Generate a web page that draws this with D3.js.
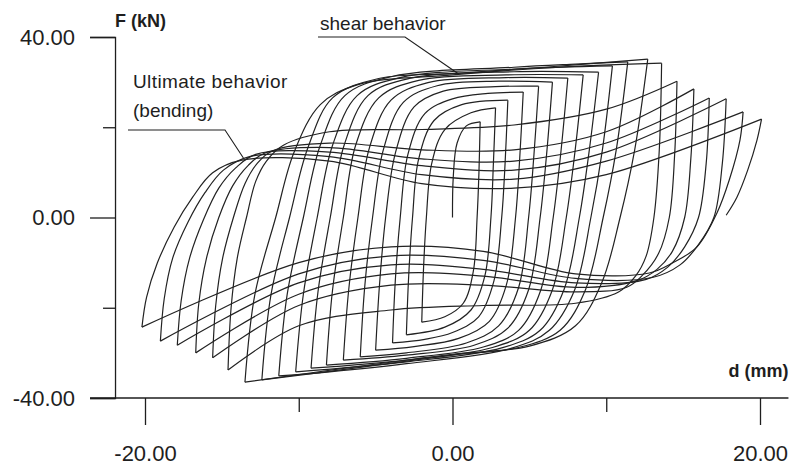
<!DOCTYPE html>
<html>
<head>
<meta charset="utf-8">
<script src="https://cdn.jsdelivr.net/npm/d3@7"></script>
<style>
  body { margin: 0; background: #fff; }
  svg { display: block; }
  text { font-family: "Liberation Sans", Arial, sans-serif; fill: #1e1e1e; }
</style>
</head>
<body>
<div id="chart"></div>
<script>
// peaks of each cycle, [d (mm), F (kN)]
const posPeaks = [[1.8,21.2],[2.8,24.3],[3.6,26],[4.6,27.8],[5.6,29.1],[6.5,30],[7.5,30.9],[8.5,31.6],
  [9.5,32.2],[10.4,33.6],[11.4,34.5],[12.7,35.1],[13.6,34.2],[14.6,30.2],[15.7,28.5],[16.7,26.5],
  [17.8,26.3],[18.9,23.4],[20.1,21.8]];
const negPeaks = [[-2.0,-23.2],[-3.0,-26],[-3.9,-27.8],[-5.0,-29.4],[-6.0,-30.9],[-7.1,-31.6],[-8.2,-32.7],
  [-9.2,-33.4],[-10.2,-34.2],[-11.3,-35.1],[-12.4,-36],[-13.5,-36.5],[-14.6,-33.8],[-15.6,-31.1],
  [-16.7,-30.0],[-17.9,-28.3],[-19.0,-27.4],[-20.2,-24.3]];
const startPoint = [0, 0];
const endPoint = [17.8, 0.5];

// points read along each reloading branch (towards +d)
const upPaths = [
  [[0.05,9],[0.3,16.5],[0.9,20.3]],
  [[-1.88,-11],[-1.7,0],[-1.35,12],[-0.5,19.5],[1.2,23.2]],
  [[-2.85,-13],[-2.6,0],[-2.2,13],[-1.2,21.5],[0.6,25]],
  [[-3.72,-14],[-3.4,0],[-2.9,14],[-1.8,23],[0,26.3],[2.3,27.5]],
  [[-4.75,-15],[-4.35,0],[-3.7,14.5],[-2.5,24.5],[-0.6,28],[2.8,29]],
  [[-5.7,-15],[-5.2,0],[-4.5,15],[-3.2,25.5],[-1.0,29.2],[3,30.2]],
  [[-6.75,-16],[-6.15,0],[-5.4,15.5],[-4.0,26],[-1.6,29.9],[3.5,31]],
  [[-7.8,-16],[-7.1,0],[-6.3,16],[-4.8,26.5],[-2.2,30.4],[3.5,31.6]],
  [[-8.75,-16.5],[-7.95,0],[-7.05,16],[-5.5,27],[-2.8,30.8],[4,32.3]],
  [[-9.7,-17],[-8.8,0],[-7.8,16],[-6.2,27],[-3.4,31],[4,32.9]],
  [[-10.75,-17],[-9.7,0],[-8.6,16],[-7,27],[-4,31.2],[4,33.3],[8,34]],
  [[-11.8,-17],[-10.6,0],[-9.4,15.5],[-7.8,26.5],[-4.8,30.8],[0,31.9],[6,33.3]],
  [[-12.85,-17],[-11.5,0],[-10.3,14.5],[-8.6,25],[-6.2,29.4],[0,31.6],[7,33.3]],
  [[-14.4,-20],[-14.0,-9],[-13.4,0],[-12.8,8],[-12.1,12.5],[-11,16],[-8,19],[-2,19.5],[4,20.5],[10,24]],
  [[-15.4,-19.5],[-14.95,-9],[-14.25,0],[-13.5,7.5],[-12.7,12],[-11.7,14.8],[-8,16.5],[-2,15],[4,15],[10,19]],
  [[-16.5,-19],[-16.0,-9],[-15.2,0],[-14.3,7],[-13.3,11.5],[-12.2,14.3],[-8,15.5],[-2,13],[4,12.5],[10,16.5]],
  [[-17.65,-18.5],[-17.1,-9],[-16.2,-0.5],[-15.2,6.5],[-14.1,11],[-12.8,14],[-8,14.5],[-2,11.5],[4,10.5],[10,14.5]],
  [[-18.75,-18],[-18.2,-9],[-17.2,-1],[-16.1,5.5],[-14.9,10.5],[-13.2,13.5],[-8,13.5],[-2,9.5],[4,8.5],[10,12.5]],
  [[-19.9,-17.7],[-19.2,-10.1],[-18.1,-2.1],[-16.9,4.5],[-15.6,9.9],[-13.7,12.7],[-8,12.5],[-2,7.5],[4,6.5],[10,9.5]]
];

// points read along each unloading branch (towards -d)
const downPaths = [
  [[1.72,10],[1.6,0],[1.35,-12],[0.7,-19],[-0.5,-22]],
  [[2.66,12],[2.5,0],[2.1,-13],[1.2,-20.5],[-0.5,-24.3]],
  [[3.42,12],[3.2,0],[2.7,-14],[1.7,-22],[0,-25.5],[-1.8,-27]],
  [[4.37,13],[4.1,0],[3.5,-15],[2.4,-23],[0.4,-26.8],[-2.5,-28.6]],
  [[5.3,14],[4.95,0],[4.3,-15.5],[3.0,-24],[0.9,-27.8],[-3,-30]],
  [[6.12,14],[5.7,0],[4.95,-16],[3.6,-24.5],[1.4,-28.3],[-3,-30.5]],
  [[7.05,14.5],[6.55,0],[5.75,-16],[4.3,-25],[2,-28.7],[-3,-31.2]],
  [[7.98,15],[7.4,0],[6.5,-16],[5.0,-25],[2.6,-28.8],[-3,-31.6]],
  [[8.9,15],[8.25,0],[7.25,-16],[5.7,-25],[3.2,-28.9],[-3,-32]],
  [[9.75,15],[9.0,0],[7.95,-16],[6.3,-25],[3.8,-29],[-3,-32.4],[-8,-34.2]],
  [[10.65,15],[9.8,0],[8.65,-16],[7.0,-25],[4.3,-28.8],[0,-30.5],[-6,-33.2]],
  [[11.85,15],[10.9,0],[9.7,-14.5],[8.0,-24],[5,-28.5],[0,-30.3],[-7,-33.4]],
  [[13.45,15],[13.1,0],[12.6,-8.5],[11.9,-13],[10.8,-16.5],[8,-19],[2,-19.5],[-4,-20.5],[-10,-24]],
  [[14.45,14],[14.1,0],[13.4,-8],[12.3,-13],[11.3,-15.5],[8,-16.5],[2,-15],[-4,-15],[-10,-19.5]],
  [[15.5,13],[15.1,0],[14.3,-7.5],[13.3,-11.5],[12.0,-14],[8,-15.5],[2,-13],[-4,-12.5],[-10,-17]],
  [[16.5,12],[16.0,0],[15.1,-6.5],[14.0,-11],[12.6,-13.7],[8,-14.5],[2,-11.5],[-4,-10.5],[-10,-14.5]],
  [[17.55,12],[17.0,0],[16.0,-6],[14.8,-10.5],[13.0,-13.3],[8,-13.5],[2,-9.5],[-4,-8.5],[-10,-12.5]],
  [[18.7,17.2],[18.0,8.3],[17.2,1],[15.9,-6.5],[14.3,-10.1],[12.8,-12.3],[8,-12.5],[2,-7.5],[-4,-6.5],[-10,-10]],
  [[19.8,17.1],[19.2,10.5],[18.5,4.5]]
];

const xTicks = [-20, 0, 20];
const xMinorTicks = [-10, 10];
const yTicks = [-40, 0, 40];
const yMinorTicks = [-20, 20];

const width = 793, height = 469;
const ink = "#1e1e1e";

const svg = d3.select("#chart").append("svg")
  .attr("width", width)
  .attr("height", height);

const x = d3.scaleLinear().domain([-20, 20]).range([145, 760]);
const y = d3.scaleLinear().domain([-40, 40]).range([398, 37]);

const fmt = d => d.toFixed(2);
const axisX = x(-21.95);

// y axis
const yAxis = svg.append("g").attr("transform", `translate(${axisX},0)`);
yAxis.call(d3.axisLeft(y).tickValues(yTicks).tickSize(25).tickPadding(15).tickFormat(fmt));
yAxis.append("g").call(d3.axisLeft(y).tickValues(yMinorTicks).tickSize(12).tickFormat(""))
  .select(".domain").remove();

// x axis
const xAxis = svg.append("g").attr("transform", `translate(0,${y(-40)})`);
xAxis.call(d3.axisBottom(x).tickValues(xTicks).tickSize(27).tickPadding(20).tickFormat(fmt));
xAxis.select(".domain").remove();
xAxis.append("line")
  .attr("x1", axisX - 25).attr("x2", x(21.85))
  .attr("stroke", ink).attr("stroke-width", 1.3);
xAxis.append("g").call(d3.axisBottom(x).tickValues(xMinorTicks).tickSize(14).tickFormat(""))
  .select(".domain").remove();

svg.selectAll(".tick text").style("font-size", "22px").style("fill", ink);
svg.selectAll(".tick line").attr("stroke", ink).attr("stroke-width", 1.3);
svg.selectAll(".domain").attr("stroke", ink).attr("stroke-width", 1.3);

// axis titles
svg.append("text").attr("x", axisX).attr("y", 27)
  .style("font-weight", "bold").style("font-size", "18px").text("F (kN)");
svg.append("text").attr("x", x(21.85)).attr("y", 377).attr("text-anchor", "end")
  .style("font-weight", "bold").style("font-size", "18px").text("d (mm)");

// build branches: reloading to each positive peak, unloading to each negative peak
const branches = [];
posPeaks.forEach((p, i) => {
  const from = i === 0 ? startPoint : negPeaks[i - 1];
  branches.push([from, ...upPaths[i], p]);
  const to = i < negPeaks.length ? negPeaks[i] : endPoint;
  branches.push([p, ...downPaths[i], to]);
});

const line = d3.line()
  .x(d => x(d[0]))
  .y(d => y(d[1]))
  .curve(d3.curveCatmullRom.alpha(0.5));

svg.append("g")
  .selectAll("path")
  .data(branches)
  .join("path")
  .attr("d", line)
  .attr("fill", "none")
  .attr("stroke", "#222")
  .attr("stroke-width", 1.2);

// annotations
const ann = svg.append("g");
ann.append("text").attr("x", 320).attr("y", 30).style("font-size", "19px").text("shear behavior");
ann.append("path")
  .attr("d", `M318,37 H405 L${x(0.4)},${y(31.8)}`)
  .attr("fill", "none").attr("stroke", ink).attr("stroke-width", 1.1);
ann.append("text").attr("x", 133).attr("y", 88).style("font-size", "19px")
  .style("letter-spacing", "0.4px").text("Ultimate behavior");
ann.append("text").attr("x", 133).attr("y", 117).style("font-size", "19px").text("(bending)");
ann.append("path")
  .attr("d", `M128,130 H225 L${x(-13.6)},${y(13.2)}`)
  .attr("fill", "none").attr("stroke", ink).attr("stroke-width", 1.1);
</script>
</body>
</html>
